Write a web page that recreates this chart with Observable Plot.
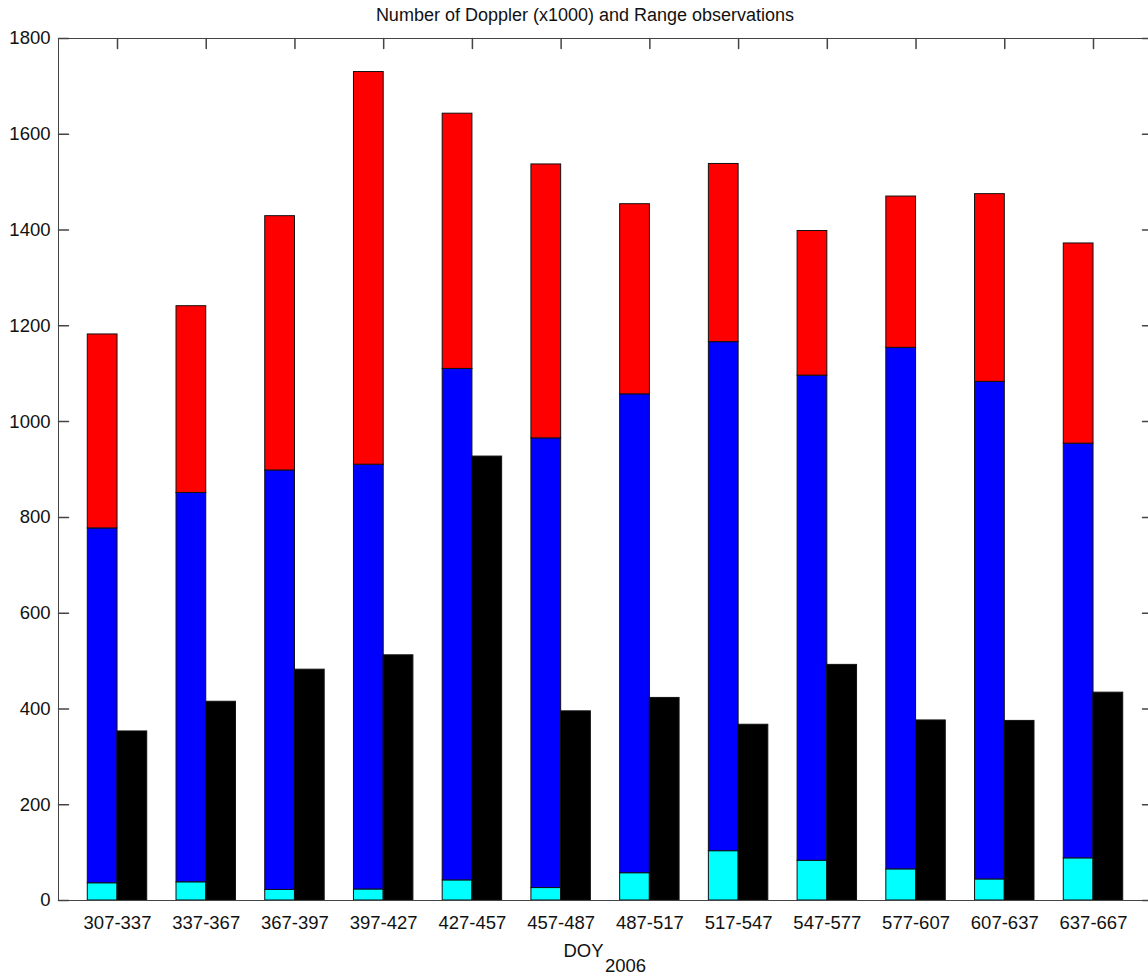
<!DOCTYPE html>
<html>
<head>
<meta charset="utf-8">
<script src="https://cdn.jsdelivr.net/npm/d3@7"></script>
<script src="https://cdn.jsdelivr.net/npm/@observablehq/plot@0.6"></script>
<style>
  html, body { margin: 0; padding: 0; background: #fff; overflow: hidden; }
  #title { width: 1148px; height: 30px; line-height: 30px; text-align: center; padding-left: 22px; box-sizing: border-box;
           font-family: "Liberation Sans", Arial, sans-serif; font-size: 18px; color: #111; }
  #chart svg { max-width: none !important; }
</style>
</head>
<body>
<div id="title">Number of Doppler (x1000) and Range observations</div>
<div id="chart"></div>
<script>
// Categories (DOY 2006 intervals)
const categories = ["307-337","337-367","367-397","397-427","427-457","457-487","487-517","517-547","547-577","577-607","607-637","637-667"];
// Stacked Doppler segments (bottom to top)
const cyanSeg  = [36, 38, 22, 23, 42, 26, 57, 103, 83, 65, 44, 88];
const blueSeg  = [741, 813, 876, 887, 1068, 939, 1000, 1063, 1013, 1089, 1039, 866];
const redSeg   = [405, 390, 531, 820, 533, 572, 397, 372, 302, 316, 392, 418];
// Range observations
const rangeObs = [353, 415, 482, 512, 927, 395, 423, 367, 492, 376, 375, 434];
// Axis ticks
const yTicks = [0, 200, 400, 600, 800, 1000, 1200, 1400, 1600, 1800];

const seriesNames = ["cyan", "blue", "red"];
const seriesColors = ["#00ffff", "#0000ff", "#ff0000"];

const stacked = [];
categories.forEach((c, i) => {
  stacked.push({cat: c, series: "cyan", value: cyanSeg[i]});
  stacked.push({cat: c, series: "blue", value: blueSeg[i]});
  stacked.push({cat: c, series: "red", value: redSeg[i]});
});
const rangeData = categories.map((c, i) => ({cat: c, value: rangeObs[i]}));

const tickShape = {draw(ctx, l) { ctx.moveTo(0, 0); ctx.lineTo(0, -l); }};
const axisColor = "#444";
const halfBand = 29.7;

const chart = Plot.plot({
  width: 1152,
  height: 948,
  marginLeft: 58,
  marginRight: 0,
  marginTop: 8,
  marginBottom: 78,
  style: {fontFamily: '"Liberation Sans", Arial, sans-serif', fontSize: "18.5px", color: "#111", background: "#fff", overflow: "visible"},
  x: {type: "band", domain: categories, padding: 0.33, round: false, label: null},
  y: {domain: [0, 1800], label: null},
  color: {domain: seriesNames, range: seriesColors},
  marks: [
    Plot.axisY(yTicks, {tickSize: 0, tickPadding: 8, fontSize: 18.5, tickFormat: d3.format("d")}),
    Plot.axisX({tickSize: 0, tickPadding: 15, fontSize: 18.5}),
    Plot.vector(yTicks, {y: d => d, frameAnchor: "left", rotate: 90, length: 10, anchor: "start", shape: tickShape, stroke: axisColor}),
    Plot.vector(yTicks, {y: d => d, frameAnchor: "right", rotate: -90, length: 10, anchor: "start", shape: tickShape, stroke: axisColor}),
    Plot.vector(categories, {x: d => d, frameAnchor: "top", rotate: 180, length: 10, anchor: "start", shape: tickShape, stroke: axisColor}),
    Plot.barY(stacked, {x: "cat", y: "value", fill: "series", stroke: "#111", strokeWidth: 1, insetRight: halfBand, order: null}),
    Plot.barY(rangeData, {x: "cat", y: "value", fill: "#000", stroke: "#111", strokeWidth: 1, insetLeft: halfBand}),
    Plot.frame({stroke: axisColor}),
    Plot.text(["DOY"], {frameAnchor: "bottom", lineAnchor: "middle", dx: -22, dy: 51, fontSize: 18.5, fill: "#111"}),
    Plot.text(["2006"], {frameAnchor: "bottom", lineAnchor: "middle", dx: 20, dy: 66, fontSize: 18.5, fill: "#111"})
  ]
});
document.getElementById("chart").appendChild(chart);
</script>
</body>
</html>
